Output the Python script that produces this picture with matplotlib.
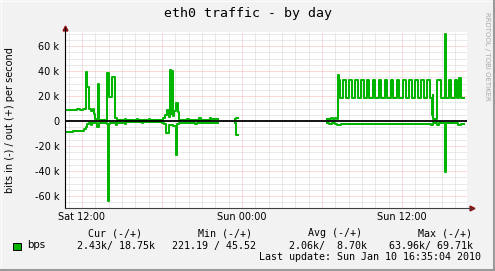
import numpy as np
import matplotlib.pyplot as plt
from matplotlib.patches import Rectangle

nan = float('nan')

# hours since Sat 00:00 ; values in kbit/s, drawn as steps like rrdtool
out_hours = [10.73, 11.10, 11.40, 11.60, 11.85, 12.10, 12.30, 12.40, 12.55, 12.65, 12.80, 12.92, 13.00,
             13.18, 13.28, 13.85, 14.05, 14.27, 14.47, 14.60, 15.20, 15.30, 16.10, 16.20, 17.00, 17.10,
             18.05, 18.20, 18.35, 18.50, 18.62, 18.70, 18.76, 18.82, 18.92, 19.05, 19.20, 19.30, 19.90,
             20.00, 20.80, 20.90, 21.60, 21.70, 22.20, 22.21,
             23.51, 23.58, 23.68, 23.69,
             30.38, 30.55, 30.70, 30.85, 31.00, 31.10, 31.18, 31.27, 31.33,
             31.575, 31.765, 32.025, 32.215, 32.475, 32.665, 32.925, 33.115, 33.35, 33.54, 33.79, 33.98,
             34.24, 34.43, 34.69, 34.88, 35.15, 35.34, 35.60, 35.79, 36.075, 36.265, 36.55, 36.74,
             36.975, 37.165, 37.425, 37.615, 37.875, 38.065, 38.22, 38.29, 38.36, 38.66, 38.93, 39.26,
             39.33, 39.53, 39.68, 39.98, 40.13, 40.31, 40.43, 40.67]
out_kbps = [8.5, 8.9, 8.6, 9.6, 9.2, 9.8, 39.0, 27.0, 9.5, 8.0, 10.0, 6.0, 1.5,
            29.5, 1.2, 38.5, 19.5, 35.0, 2.5, 1.2, 2.0, 1.2, 1.8, 1.2, 1.8, 1.2,
            2.5, 4.8, 8.5, 3.0, 41.0, 6.0, 40.0, 4.0, 8.0, 14.4, 7.0, 1.2, 2.0,
            1.2, 2.2, 1.2, 2.5, 1.5, 1.5, nan,
            1.5, 2.4, 2.4, nan,
            2.0, 1.5, 2.5, 1.8, 2.5, 1.5, 37.0, 33.0, 18.5,
            32.5, 18.5, 32.5, 18.5, 32.5, 18.5, 32.5, 18.5, 32.5, 18.5, 32.5, 18.5,
            32.5, 18.5, 32.5, 18.5, 32.5, 18.5, 32.5, 18.5, 32.5, 18.5, 32.5, 18.5,
            32.5, 18.5, 32.5, 18.5, 32.5, 18.5, 4.8, 21.0, 2.0, 32.5, 18.5, 70.0,
            18.5, 32.5, 18.5, 32.5, 18.5, 34.5, 18.5, 18.5]

in_hours = [10.73, 11.30, 11.90, 12.15, 12.30, 12.38, 12.50, 12.65, 12.75, 13.15, 13.25, 13.85,
            13.93, 14.03, 14.10, 14.55, 14.65, 15.20, 15.30, 16.50, 16.60, 18.00, 18.15, 18.30,
            18.55, 18.85, 19.05, 19.15, 19.30, 20.50, 20.60, 22.20, 22.21,
            23.51, 23.58, 23.68, 23.69,
            30.38, 30.55, 30.75, 31.00, 31.15, 31.45, 31.60, 38.20, 38.36, 38.60, 38.75, 39.26,
            39.33, 40.20, 40.45, 40.67]
in_kbps = [8.5, 8.2, 7.8, 6.5, 4.5, 2.5, 1.5, 2.8, 1.5, 4.5, 1.5, 2.0,
           64.0, 2.5, 1.2, 3.0, 1.2, 2.0, 1.0, 1.8, 1.0, 1.2, 2.5, 9.8,
           3.0, 4.0, 27.0, 2.0, 1.2, 2.0, 1.2, 1.2, nan,
           1.5, 11.0, 11.0, nan,
           1.5, 2.0, 1.2, 2.0, 3.2, 2.2, 2.0, 2.8, 1.5, 3.0, 1.5, 41.0,
           1.8, 3.5, 2.0, 2.0]

y_ticks = [-60, -40, -20, 0, 20, 40, 60]
y_labels = ['-60 k', '-40 k', '-20 k', '0', '20 k', '40 k', '60 k']
x_ticks = [12, 24, 36]
x_labels = ['Sat 12:00', 'Sun 00:00', 'Sun 12:00']

legend_head = ['Cur (-/+)', 'Min (-/+)', 'Avg (-/+)', 'Max (-/+)']
legend_vals = ['2.43k/ 18.75k', '221.19 / 45.52', '2.06k/  8.70k', '63.96k/ 69.71k']
last_update = 'Last update: Sun Jan 10 16:35:04 2010'

W, H = 495, 271
GREEN = '#00B400'
MONO = 'DejaVu Sans Mono'


def fx(x):
    return x / W


def fy(y):
    return 1 - y / H


fig = plt.figure(figsize=(W / 100, H / 100), dpi=100, facecolor='#F2F2F2')
ax = fig.add_axes([fx(65), fy(208), (467 - 65) / W, (208 - 32) / H])
ax.set_facecolor('white')
ax.set_xlim(10.725, 40.875)
ax.set_ylim(-69.6, 71.2)
for s in ax.spines.values():
    s.set_visible(False)

# grid: grey dotted minor, red dotted major
dot = (0, (1, 1))
for h in np.arange(11, 41):
    major = h % 6 == 0
    ax.axvline(h, color='#F4B8B8' if major else '#D4D4D4', lw=0.72, ls=dot, zorder=1)
for v in np.arange(-65, 71, 5):
    if v == 0:
        continue
    major = v % 20 == 0
    ax.axhline(v, color='#F4B8B8' if major else '#D4D4D4', lw=0.72, ls=dot, zorder=1)

ax.plot(out_hours, out_kbps, color=GREEN, lw=1.45, drawstyle='steps-post', zorder=3)
ax.plot(in_hours, -np.array(in_kbps), color=GREEN, lw=1.45, drawstyle='steps-post', zorder=3)
ax.axhline(0, color='black', lw=1.3, zorder=4)

# axes with arrows
ax.plot([0, 0], [0, 1.02], transform=ax.transAxes, color='black', lw=0.8, clip_on=False, zorder=5)
ax.plot([0, 1.012], [0, 0], transform=ax.transAxes, color='#404040', lw=0.8, clip_on=False, zorder=5)
ax.plot([0], [1.025], marker='^', ms=3.5, color='#8B1010', transform=ax.transAxes, clip_on=False)
ax.plot([1.012], [0], marker='>', ms=3.5, color='#8B1010', transform=ax.transAxes, clip_on=False)

ax.set_yticks(y_ticks)
ax.set_yticklabels(y_labels)
ax.set_xticks(x_ticks)
ax.set_xticklabels(x_labels)
ax.tick_params(length=0, labelsize=7, pad=4)
ax.tick_params(axis='x', pad=3)

fig.text(fx(248), fy(14), 'eth0 traffic - by day', ha='center', va='center', family=MONO, fontsize=9.5)
fig.text(fx(10), fy(120), 'bits in (-) / out (+) per second', rotation=90, ha='center', va='center',
         fontsize=7)
fig.text(fx(487), fy(56), 'RRDTOOL / TOBI OETIKER', rotation=-90, ha='center', va='center',
         fontsize=5, color='#A8A8A8')

# legend
fig.add_artist(Rectangle((fx(13), fy(249.5)), 7.5 / W, 7 / H, facecolor=GREEN, edgecolor='black',
                         lw=0.7, transform=fig.transFigure))
fig.text(fx(27), fy(245.5), 'bps', ha='left', va='center', fontsize=7.4)
for x, t in zip([88, 198, 308, 418], legend_head):
    fig.text(fx(x), fy(233), t, ha='left', va='center', family=MONO, fontsize=7.2)
for x, t in zip([77, 172, 289, 389], legend_vals):
    fig.text(fx(x), fy(245.5), t, ha='left', va='center', family=MONO, fontsize=7.2)
fig.text(fx(259), fy(257.5), last_update, ha='left', va='center', family=MONO, fontsize=7.2)

# rrdtool style frame shade
line = plt.Line2D
fig.add_artist(line([0, 1], [fy(0.5), fy(0.5)], color='#FCFCFC', lw=1, transform=fig.transFigure))
fig.add_artist(line([fx(0.5), fx(0.5)], [0, 1], color='#FCFCFC', lw=1, transform=fig.transFigure))
fig.add_artist(line([0, 1], [fy(270), fy(270)], color='#9A9A9A', lw=1.5, transform=fig.transFigure))
fig.add_artist(line([fx(494), fx(494)], [0, 1], color='#9A9A9A', lw=1.5, transform=fig.transFigure))

fig.savefig('out.png', dpi=100, facecolor=fig.get_facecolor())
